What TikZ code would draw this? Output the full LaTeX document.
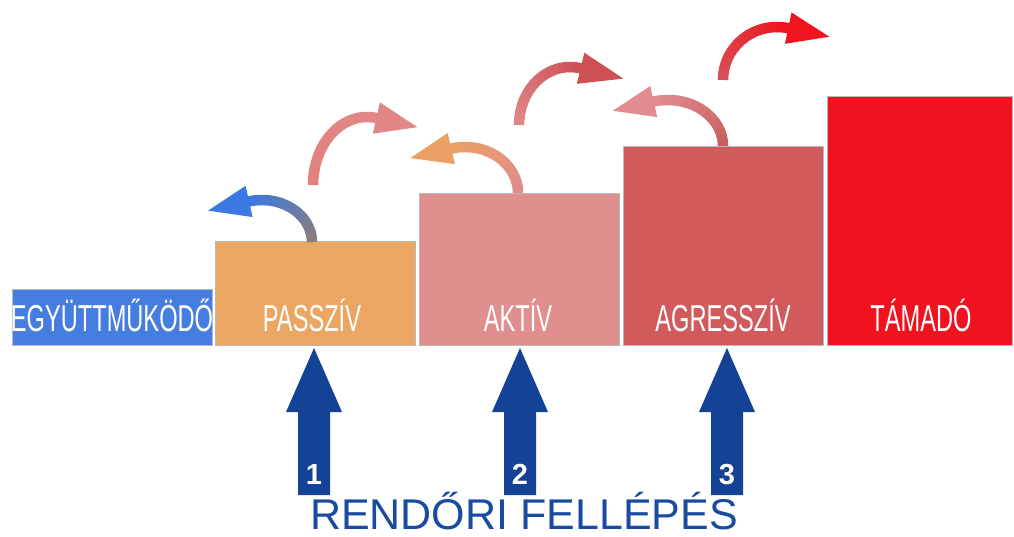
\documentclass[tikz,border=0pt]{standalone}
\usepackage{fontspec}
\setmainfont{Liberation Sans}
\newfontfamily\narrowfont[FakeStretch=0.63]{Liberation Sans}
\usetikzlibrary{calc}
\definecolor{cEgy}{RGB}{70,125,225}
\definecolor{cPas}{RGB}{235,166,100}
\definecolor{cAkt}{RGB}{224,142,142}
\definecolor{cAgr}{RGB}{208,90,92}
\definecolor{cTam}{RGB}{240,18,30}
\definecolor{cNavy}{RGB}{20,66,150}
\definecolor{cTitle}{RGB}{25,75,160}
\definecolor{cAs}{RGB}{140,125,125}
\definecolor{cAe}{RGB}{60,120,225}
\definecolor{cBs}{RGB}{225,130,125}
\definecolor{cBe}{RGB}{226,135,135}
\definecolor{cCs}{RGB}{222,140,140}
\definecolor{cCe}{RGB}{235,160,100}
\definecolor{cDs}{RGB}{222,135,135}
\definecolor{cDe}{RGB}{205,80,85}
\definecolor{cEs}{RGB}{200,95,95}
\definecolor{cEe}{RGB}{225,140,145}
\definecolor{cFs}{RGB}{215,80,85}
\definecolor{cFe}{RGB}{240,20,30}
\newcommand\curvarr[9]{%
  \foreach \i in {0,...,15}{%
    \pgfmathsetmacro\ta{#5+(#6-#5)*\i/16}%
    \pgfmathsetmacro\tb{#5+(#6-#5)*(\i+1.15)/16}%
    \pgfmathtruncatemacro\pc{100*\i/15}%
    \draw[line width=10.5pt, line cap=butt, draw=#8!\pc!#7] ($(#1,#2)+(\ta:#3 and #4)$) arc[start angle=\ta, end angle=\tb, x radius=#3, y radius=#4];
  }%
  \pgfmathsetmacro\te{#6}%
  \pgfmathsetmacro\sg{sign(#6-#5)}%
  \pgfmathsetmacro\hdang{atan2(\sg*#4*cos(\te), -\sg*#3*sin(\te))}%
  \coordinate (hb) at ($(#1,#2)+(\te:#3 and #4)$);
  \fill[#8] ($(hb)+(\hdang+90:16)$) -- ($(hb)+(\hdang:#9)$) -- ($(hb)+(\hdang-90:16)$) -- cycle;
}
\begin{document}
\begin{tikzpicture}[x=1pt,y=-1pt,
  box/.style={draw=gray!55, line width=0.8pt, inner sep=0pt, minimum width=200pt},
  lbl/.style={text=white, anchor=base, inner sep=0pt, font=\narrowfont\fontsize{37.5}{40}\selectfont},
  num/.style={text=white, anchor=base, inner sep=0pt, font=\bfseries\fontsize{29}{30}\selectfont},
  policearrow/.style={fill=cNavy}]
\useasboundingbox[fill=white] (0,0) rectangle (1014,537);
% steps
\node[box, fill=cEgy, minimum height=56pt] (egy) at (112,317) {};
\node[box, fill=cPas, minimum height=104pt] (pas) at (315,293) {};
\node[box, fill=cAkt, minimum height=152pt] (akt) at (519,269) {};
\node[box, fill=cAgr, minimum height=199pt] (agr) at (723,245.5) {};
\node[box, fill=cTam, minimum height=249pt, minimum width=185pt] (tam) at (919.5,220.5) {};
\node[lbl] (tegy) at (112,331) {EGYÜTTMŰKÖDŐ};
\node[lbl] (tpas) at (312,331) {PASSZÍV};
\node[lbl] (takt) at (518,331) {AKTÍV};
\node[lbl] (tagr) at (723,331) {AGRESSZÍV};
\node[lbl] (ttam) at (921,331) {TÁMADÓ};
% curved arrows
\curvarr{262}{242}{50}{42}{0}{-105}{cAs}{cAe}{42}
\curvarr{367}{185}{54}{68}{180}{280}{cBs}{cBe}{42}
\curvarr{465}{193}{53}{46}{0}{-105}{cCs}{cCe}{42}
\curvarr{570}{125}{51}{58}{180}{282}{cDs}{cDe}{44}
\curvarr{668}{146}{55}{46}{0}{-105}{cEs}{cEe}{42}
\curvarr{777}{80}{54}{53}{180}{282}{cFs}{cFe}{42}
% police arrows
\foreach \x/\n in {314/1,520/2,727/3}{
  \fill[policearrow] (\x,348) -- (\x+28,412) -- (\x+16,412) -- (\x+16,495) -- (\x-16,495) -- (\x-16,412) -- (\x-28,412) -- cycle;
  \node[num] (n\n) at (\x,484) {\n};
}
\node[anchor=base, inner sep=0pt, text depth=0pt, text=cTitle, font=\fontsize{43}{46}\selectfont] (title) at (524,529) {RENDŐRI FELLÉPÉS};
\end{tikzpicture}
\end{document}
